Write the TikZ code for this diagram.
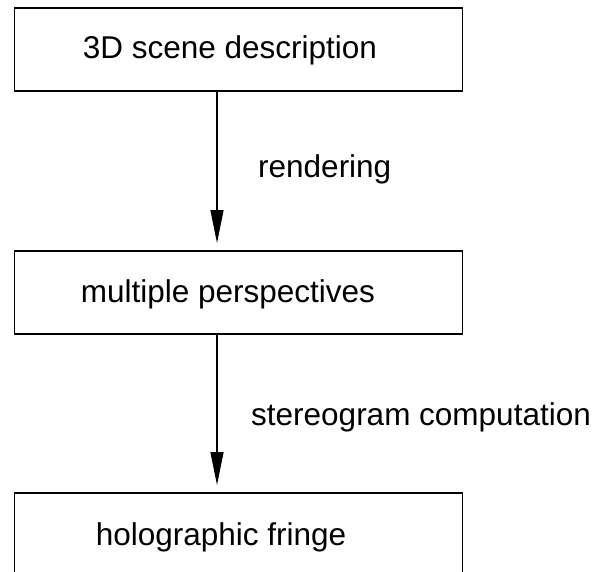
\documentclass[tikz,border=0pt]{standalone}
\usepackage{fontspec}
\setmainfont{Liberation Sans}
\usetikzlibrary{arrows.meta}
\begin{document}
\begin{tikzpicture}[x=1pt,y=-1pt,
  boxstyle/.style={draw=black,line width=1.3pt,rectangle,minimum width=448pt,minimum height=83pt,inner sep=0pt,outer sep=0pt},
  txt/.style={anchor=base,inner sep=0pt,font=\fontsize{31.5pt}{36pt}\selectfont},
  arr/.style={draw=black,line width=1.3pt,-{Triangle[length=33pt,width=13pt]},shorten >=8pt}]
\useasboundingbox (0,0) rectangle (604,571);
\clip (0,0) rectangle (604,571);
\node[boxstyle] (b1) at (238.5,49.5) {};
\node[boxstyle] (b2) at (238.5,292.5) {};
\node[boxstyle] (b3) at (238.5,534.5) {};
\node[txt] (t1) at (230,58) {3D scene description};
\node[txt] (t2) at (228,302) {multiple perspectives};
\node[txt] (t3) at (221,545) {holographic fringe};
\coordinate (ax) at (217,0);
\draw[arr] (b1.south -| ax) -- (b2.north -| ax);
\draw[arr] (b2.south -| ax) -- (b3.north -| ax);
\node[txt,anchor=base west] (l1) at (258,177) {rendering};
\node[txt,anchor=base west] (l2) at (251,425) {stereogram computation};
\end{tikzpicture}
\end{document}
